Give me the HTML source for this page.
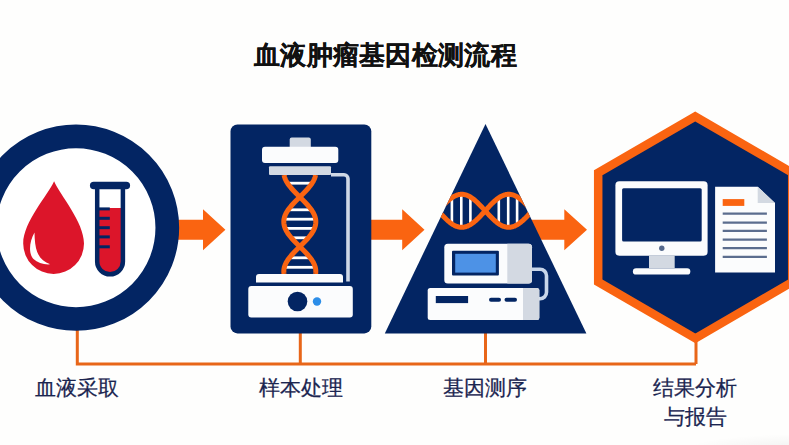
<!DOCTYPE html>
<html><head><meta charset="utf-8">
<style>
html,body{margin:0;padding:0;width:789px;height:445px;overflow:hidden;background:#fefefd;}
body{position:relative;font-family:"Liberation Sans",sans-serif;}
svg{position:absolute;left:0;top:0;}
.t{position:absolute;white-space:nowrap;color:#1b2550;}
#title{left:254px;top:38px;font-size:26px;font-weight:700;color:#111;letter-spacing:0.3px;-webkit-text-stroke:0.15px #111;}
.lab{font-size:21px;-webkit-text-stroke:0.25px #1b2550;line-height:29px;text-align:center;width:120px;}
</style></head><body>
<svg width="789" height="445" viewBox="0 0 789 445">
<defs><radialGradient id="sh" cx="0.5" cy="0.5" r="0.5"><stop offset="0" stop-color="#000" stop-opacity="0.06"/><stop offset="1" stop-color="#000" stop-opacity="0"/></radialGradient></defs>
<ellipse cx="800" cy="452" rx="120" ry="18" fill="url(#sh)"/>
<g stroke="#e86619" stroke-width="3" fill="none">
<path d="M77.3,320 V364 H696"/>
<path d="M300.3,320 V364"/>
<path d="M485.5,320 V364"/>
<path d="M696,330 V364"/>
</g>
<path d="M165,219.8 H203 V209.3 L225.4,229.8 L203,250.3 V239.8 H165 Z" fill="#fa6411"/>
<path d="M365,219.8 H402.2 V209.3 L424.5,229.8 L402.2,250.3 V239.8 H365 Z" fill="#fa6411"/>
<path d="M525,219.8 H564.3 V209.3 L587,229.8 L564.3,250.3 V239.8 H525 Z" fill="#fa6411"/>
<circle cx="76" cy="227.7" r="91.3" fill="#ffffff" stroke="#032563" stroke-width="23.7"/>
<path d="M54.1,181.3 C 60,195 84,222 84,243.5 A30.4,30.4 0 0 1 23.2,243.5 C23.2,222 48,195 54.1,181.3 Z" fill="#dc152a"/>
<path d="M34.5,232.5 C29,242 28.5,254 33.5,259 C37.5,263 44,264.8 50.2,264.3 C44,262 39.5,258 37.2,252 C35.3,247 34.6,240 34.5,232.5 Z" fill="#ffffff"/>
<path d="M97.2,189 V261.5 A12.85,12.85 0 0 0 122.9,261.5 V189 Z" fill="#ffffff"/>
<path d="M97.2,208 H122.9 V261.5 A12.85,12.85 0 0 1 97.2,261.5 Z" fill="#dc152a"/>
<path d="M97.2,186 V261.5 A12.85,12.85 0 0 0 122.9,261.5 V186" fill="none" stroke="#032563" stroke-width="4.5"/>
<line x1="93.7" y1="185.6" x2="126.3" y2="185.6" stroke="#032563" stroke-width="7.5" stroke-linecap="round"/>
<line x1="98.6" y1="208.9" x2="109.8" y2="208.9" stroke="#032563" stroke-width="3"/>
<line x1="98.6" y1="218.3" x2="109.8" y2="218.3" stroke="#032563" stroke-width="3"/>
<line x1="98.6" y1="227.7" x2="109.8" y2="227.7" stroke="#032563" stroke-width="3"/>
<line x1="98.6" y1="236.9" x2="109.8" y2="236.9" stroke="#032563" stroke-width="3"/>
<line x1="98.6" y1="246.8" x2="109.8" y2="246.8" stroke="#032563" stroke-width="3"/>
<rect x="230.5" y="124.4" width="140.8" height="209" rx="7" fill="#032563"/>
<path d="M331,174.8 H344 A4,4 0 0 1 348,178.8 V281.6" fill="none" stroke="#cfd8e6" stroke-width="3.6"/>
<g>
<line x1="287.53" y1="183.2" x2="312.07" y2="183.2" stroke="#ffffff" stroke-width="2.8"/>
<line x1="288.20" y1="209.8" x2="311.40" y2="209.8" stroke="#ffffff" stroke-width="2.8"/>
<line x1="284.02" y1="219.2" x2="315.58" y2="219.2" stroke="#ffffff" stroke-width="2.8"/>
<line x1="285.18" y1="228.4" x2="314.42" y2="228.4" stroke="#ffffff" stroke-width="2.8"/>
<line x1="291.34" y1="237.8" x2="308.26" y2="237.8" stroke="#ffffff" stroke-width="2.8"/>
<line x1="289.38" y1="257.8" x2="310.22" y2="257.8" stroke="#ffffff" stroke-width="2.8"/>
<line x1="284.34" y1="267.3" x2="315.26" y2="267.3" stroke="#ffffff" stroke-width="2.8"/>
<path d="M284.05,175.00 L284.15,175.50 L284.26,176.00 L284.39,176.50 L284.53,177.00 L284.69,177.50 L284.87,178.00 L285.06,178.50 L285.26,179.00 L285.48,179.50 L285.71,180.00 L285.96,180.50 L286.22,181.00 L286.50,181.50 L286.78,182.00 L287.09,182.50 L287.40,183.00 L287.73,183.50 L288.06,184.00 L288.41,184.50 L288.78,185.00 L289.15,185.50 L289.53,186.00 L289.93,186.50 L290.33,187.00 L290.74,187.50 L291.17,188.00 L291.60,188.50 L292.04,189.00 L292.48,189.50 L292.94,190.00 L293.40,190.50 L293.86,191.00 L294.34,191.50 L294.82,192.00 L295.30,192.50 L295.79,193.00 L296.28,193.50 L296.78,194.00 L297.28,194.50 L297.78,195.00 L298.28,195.50 L298.79,196.00 L299.29,196.50 L299.80,197.00 L300.31,197.50 L300.81,198.00 L301.32,198.50 L301.82,199.00 L302.32,199.50 L302.82,200.00 L303.32,200.50 L303.81,201.00 L304.30,201.50 L304.78,202.00 L305.26,202.50 L305.74,203.00 L306.20,203.50 L306.66,204.00 L307.12,204.50 L307.56,205.00 L308.00,205.50 L308.43,206.00 L308.86,206.50 L309.27,207.00 L309.67,207.50 L310.07,208.00 L310.45,208.50 L310.82,209.00 L311.19,209.50 L311.54,210.00 L311.87,210.50 L312.20,211.00 L312.51,211.50 L312.82,212.00 L313.10,212.50 L313.38,213.00 L313.64,213.50 L313.89,214.00 L314.12,214.50 L314.34,215.00 L314.54,215.50 L314.73,216.00 L314.91,216.50 L315.07,217.00 L315.21,217.50 L315.34,218.00 L315.45,218.50 L315.55,219.00 L315.63,219.50 L315.70,220.00 L315.75,220.50 L315.78,221.00 L315.80,221.50 L315.80,222.00 L315.78,222.50 L315.75,223.00 L315.71,223.50 L315.64,224.00 L315.57,224.50 L315.47,225.00 L315.36,225.50 L315.24,226.00 L315.10,226.50 L314.94,227.00 L314.77,227.50 L314.58,228.00 L314.38,228.50 L314.16,229.00 L313.93,229.50 L313.69,230.00 L313.43,230.50 L313.16,231.00 L312.87,231.50 L312.58,232.00 L312.26,232.50 L311.94,233.00 L311.60,233.50 L311.26,234.00 L310.90,234.50 L310.53,235.00 L310.14,235.50 L309.75,236.00 L309.35,236.50 L308.94,237.00 L308.52,237.50 L308.09,238.00 L307.65,238.50 L307.21,239.00 L306.76,239.50 L306.30,240.00 L305.83,240.50 L305.36,241.00 L304.88,241.50 L304.40,242.00 L303.91,242.50 L303.42,243.00 L302.92,243.50 L302.42,244.00 L301.92,244.50 L301.42,245.00 L300.91,245.50 L300.41,246.00 L299.90,246.50 L299.39,247.00 L298.89,247.50 L298.38,248.00 L297.88,248.50 L297.38,249.00 L296.88,249.50 L296.38,250.00 L295.89,250.50 L295.40,251.00 L294.91,251.50 L294.43,252.00 L293.96,252.50 L293.49,253.00 L293.03,253.50 L292.57,254.00 L292.12,254.50 L291.68,255.00 L291.25,255.50 L290.83,256.00 L290.41,256.50 L290.01,257.00 L289.61,257.50 L289.23,258.00 L288.85,258.50 L288.49,259.00 L288.13,259.50 L287.79,260.00 L287.46,260.50 L287.15,261.00 L286.84,261.50 L286.55,262.00 L286.28,262.50 L286.01,263.00 L285.76,263.50 L285.53,264.00 L285.30,264.50 L285.10,265.00 L284.90,265.50 L284.73,266.00 L284.56,266.50 L284.42,267.00 L284.29,267.50 L284.17,268.00 L284.07,268.50 L283.98,269.00 L283.92,269.50 L283.86,270.00 L283.83,270.50 L283.81,271.00 L283.80,271.50 L283.81,272.00 L283.84,272.50 L283.88,273.00 L283.94,273.50 L284.02,274.00" fill="none" stroke="#fa6411" stroke-width="5"/>
<path d="M315.55,175.00 L315.45,175.50 L315.34,176.00 L315.21,176.50 L315.07,177.00 L314.91,177.50 L314.73,178.00 L314.54,178.50 L314.34,179.00 L314.12,179.50 L313.89,180.00 L313.64,180.50 L313.38,181.00 L313.10,181.50 L312.82,182.00 L312.51,182.50 L312.20,183.00 L311.87,183.50 L311.54,184.00 L311.19,184.50 L310.82,185.00 L310.45,185.50 L310.07,186.00 L309.67,186.50 L309.27,187.00 L308.86,187.50 L308.43,188.00 L308.00,188.50 L307.56,189.00 L307.12,189.50 L306.66,190.00 L306.20,190.50 L305.74,191.00 L305.26,191.50 L304.78,192.00 L304.30,192.50 L303.81,193.00 L303.32,193.50 L302.82,194.00 L302.32,194.50 L301.82,195.00 L301.32,195.50 L300.81,196.00 L300.31,196.50 L299.80,197.00 L299.29,197.50 L298.79,198.00 L298.28,198.50 L297.78,199.00 L297.28,199.50 L296.78,200.00 L296.28,200.50 L295.79,201.00 L295.30,201.50 L294.82,202.00 L294.34,202.50 L293.86,203.00 L293.40,203.50 L292.94,204.00 L292.48,204.50 L292.04,205.00 L291.60,205.50 L291.17,206.00 L290.74,206.50 L290.33,207.00 L289.93,207.50 L289.53,208.00 L289.15,208.50 L288.78,209.00 L288.41,209.50 L288.06,210.00 L287.73,210.50 L287.40,211.00 L287.09,211.50 L286.78,212.00 L286.50,212.50 L286.22,213.00 L285.96,213.50 L285.71,214.00 L285.48,214.50 L285.26,215.00 L285.06,215.50 L284.87,216.00 L284.69,216.50 L284.53,217.00 L284.39,217.50 L284.26,218.00 L284.15,218.50 L284.05,219.00 L283.97,219.50 L283.90,220.00 L283.85,220.50 L283.82,221.00 L283.80,221.50 L283.80,222.00 L283.82,222.50 L283.85,223.00 L283.89,223.50 L283.96,224.00 L284.03,224.50 L284.13,225.00 L284.24,225.50 L284.36,226.00 L284.50,226.50 L284.66,227.00 L284.83,227.50 L285.02,228.00 L285.22,228.50 L285.44,229.00 L285.67,229.50 L285.91,230.00 L286.17,230.50 L286.44,231.00 L286.73,231.50 L287.02,232.00 L287.34,232.50 L287.66,233.00 L288.00,233.50 L288.34,234.00 L288.70,234.50 L289.07,235.00 L289.46,235.50 L289.85,236.00 L290.25,236.50 L290.66,237.00 L291.08,237.50 L291.51,238.00 L291.95,238.50 L292.39,239.00 L292.84,239.50 L293.30,240.00 L293.77,240.50 L294.24,241.00 L294.72,241.50 L295.20,242.00 L295.69,242.50 L296.18,243.00 L296.68,243.50 L297.18,244.00 L297.68,244.50 L298.18,245.00 L298.69,245.50 L299.19,246.00 L299.70,246.50 L300.21,247.00 L300.71,247.50 L301.22,248.00 L301.72,248.50 L302.22,249.00 L302.72,249.50 L303.22,250.00 L303.71,250.50 L304.20,251.00 L304.69,251.50 L305.17,252.00 L305.64,252.50 L306.11,253.00 L306.57,253.50 L307.03,254.00 L307.48,254.50 L307.92,255.00 L308.35,255.50 L308.77,256.00 L309.19,256.50 L309.59,257.00 L309.99,257.50 L310.37,258.00 L310.75,258.50 L311.11,259.00 L311.47,259.50 L311.81,260.00 L312.14,260.50 L312.45,261.00 L312.76,261.50 L313.05,262.00 L313.32,262.50 L313.59,263.00 L313.84,263.50 L314.07,264.00 L314.30,264.50 L314.50,265.00 L314.70,265.50 L314.87,266.00 L315.04,266.50 L315.18,267.00 L315.31,267.50 L315.43,268.00 L315.53,268.50 L315.62,269.00 L315.68,269.50 L315.74,270.00 L315.77,270.50 L315.79,271.00 L315.80,271.50 L315.79,272.00 L315.76,272.50 L315.72,273.00 L315.66,273.50 L315.58,274.00" fill="none" stroke="#fa6411" stroke-width="5"/>
</g>
<rect x="289.7" y="137.4" width="21.1" height="12" rx="2" fill="#d3d9e2"/>
<rect x="262" y="146.8" width="76.3" height="16.2" rx="3" fill="#fbfcfd"/>
<rect x="269" y="166.3" width="62" height="8.8" rx="1" fill="#d3d9e2"/>
<path d="M256,282.4 V277 A3,3 0 0 1 259,274 H340 A3,3 0 0 1 343,277 V282.4 Z" fill="#fbfcfd"/>
<rect x="248.3" y="286" width="104.5" height="31.5" rx="3" fill="#fbfcfd"/>
<circle cx="297.5" cy="301.5" r="9.8" fill="#032563"/>
<circle cx="317" cy="301.5" r="4.2" fill="#2d8ee8"/>
<defs><clipPath id="tri"><polygon points="485.5,124 384.8,333.4 586.4,333.4"/></clipPath></defs>
<polygon points="485.5,124 384.8,333.4 586.4,333.4" fill="#032563"/>
<g clip-path="url(#tri)">
<line x1="451.9" y1="197.72" x2="451.9" y2="223.88" stroke="#ffffff" stroke-width="2.6"/>
<line x1="461.3" y1="194.31" x2="461.3" y2="227.29" stroke="#ffffff" stroke-width="2.6"/>
<line x1="470.4" y1="197.01" x2="470.4" y2="224.59" stroke="#ffffff" stroke-width="2.6"/>
<line x1="498.8" y1="197.78" x2="498.8" y2="223.82" stroke="#ffffff" stroke-width="2.6"/>
<line x1="508.2" y1="194.31" x2="508.2" y2="227.29" stroke="#ffffff" stroke-width="2.6"/>
<line x1="517.1" y1="196.83" x2="517.1" y2="224.77" stroke="#ffffff" stroke-width="2.6"/>
<path d="M430.00,219.40 L430.50,218.92 L431.00,218.44 L431.50,217.94 L432.00,217.44 L432.50,216.94 L433.00,216.42 L433.50,215.90 L434.00,215.37 L434.50,214.84 L435.00,214.30 L435.50,213.76 L436.00,213.22 L436.50,212.67 L437.00,212.12 L437.50,211.57 L438.00,211.02 L438.50,210.47 L439.00,209.92 L439.50,209.37 L440.00,208.82 L440.50,208.27 L441.00,207.73 L441.50,207.19 L442.00,206.65 L442.50,206.12 L443.00,205.60 L443.50,205.08 L444.00,204.56 L444.50,204.06 L445.00,203.56 L445.50,203.06 L446.00,202.58 L446.50,202.11 L447.00,201.64 L447.50,201.19 L448.00,200.75 L448.50,200.32 L449.00,199.90 L449.50,199.49 L450.00,199.09 L450.50,198.71 L451.00,198.34 L451.50,197.99 L452.00,197.65 L452.50,197.32 L453.00,197.01 L453.50,196.72 L454.00,196.44 L454.50,196.17 L455.00,195.93 L455.50,195.70 L456.00,195.48 L456.50,195.29 L457.00,195.11 L457.50,194.95 L458.00,194.80 L458.50,194.68 L459.00,194.57 L459.50,194.48 L460.00,194.41 L460.50,194.35 L461.00,194.32 L461.50,194.30 L462.00,194.30 L462.50,194.32 L463.00,194.36 L463.50,194.42 L464.00,194.49 L464.50,194.59 L465.00,194.70 L465.50,194.83 L466.00,194.98 L466.50,195.14 L467.00,195.32 L467.50,195.52 L468.00,195.74 L468.50,195.98 L469.00,196.23 L469.50,196.49 L470.00,196.77 L470.50,197.07 L471.00,197.39 L471.50,197.72 L472.00,198.06 L472.50,198.42 L473.00,198.79 L473.50,199.17 L474.00,199.57 L474.50,199.98 L475.00,200.40 L475.50,200.84 L476.00,201.28 L476.50,201.74 L477.00,202.20 L477.50,202.68 L478.00,203.16 L478.50,203.66 L479.00,204.16 L479.50,204.66 L480.00,205.18 L480.50,205.70 L481.00,206.23 L481.50,206.76 L482.00,207.30 L482.50,207.84 L483.00,208.38 L483.50,208.93 L484.00,209.48 L484.50,210.03 L485.00,210.58 L485.50,211.13 L486.00,211.68 L486.50,212.23 L487.00,212.78 L487.50,213.33 L488.00,213.87 L488.50,214.41 L489.00,214.95 L489.50,215.48 L490.00,216.00 L490.50,216.52 L491.00,217.04 L491.50,217.54 L492.00,218.04 L492.50,218.54 L493.00,219.02 L493.50,219.49 L494.00,219.96 L494.50,220.41 L495.00,220.85 L495.50,221.28 L496.00,221.70 L496.50,222.11 L497.00,222.51 L497.50,222.89 L498.00,223.26 L498.50,223.61 L499.00,223.95 L499.50,224.28 L500.00,224.59 L500.50,224.88 L501.00,225.16 L501.50,225.43 L502.00,225.67 L502.50,225.90 L503.00,226.12 L503.50,226.31 L504.00,226.49 L504.50,226.65 L505.00,226.80 L505.50,226.92 L506.00,227.03 L506.50,227.12 L507.00,227.19 L507.50,227.25 L508.00,227.28 L508.50,227.30 L509.00,227.30 L509.50,227.28 L510.00,227.24 L510.50,227.18 L511.00,227.11 L511.50,227.01 L512.00,226.90 L512.50,226.77 L513.00,226.62 L513.50,226.46 L514.00,226.28 L514.50,226.08 L515.00,225.86 L515.50,225.62 L516.00,225.37 L516.50,225.11 L517.00,224.83 L517.50,224.53 L518.00,224.21 L518.50,223.88 L519.00,223.54 L519.50,223.18 L520.00,222.81 L520.50,222.43 L521.00,222.03 L521.50,221.62 L522.00,221.20 L522.50,220.76 L523.00,220.32 L523.50,219.86 L524.00,219.40 L524.50,218.92 L525.00,218.44 L525.50,217.94 L526.00,217.44 L526.50,216.94 L527.00,216.42 L527.50,215.90 L528.00,215.37 L528.50,214.84 L529.00,214.30 L529.50,213.76 L530.00,213.22 L530.50,212.67 L531.00,212.12 L531.50,211.57 L532.00,211.02 L532.50,210.47 L533.00,209.92 L533.50,209.37 L534.00,208.82 L534.50,208.27 L535.00,207.73 L535.50,207.19 L536.00,206.65 L536.50,206.12 L537.00,205.60 L537.50,205.08 L538.00,204.56 L538.50,204.06 L539.00,203.56 L539.50,203.06 L540.00,202.58 L540.50,202.11 L541.00,201.64" fill="none" stroke="#fa6411" stroke-width="5"/>
<path d="M430.00,202.20 L430.50,202.68 L431.00,203.16 L431.50,203.66 L432.00,204.16 L432.50,204.66 L433.00,205.18 L433.50,205.70 L434.00,206.23 L434.50,206.76 L435.00,207.30 L435.50,207.84 L436.00,208.38 L436.50,208.93 L437.00,209.48 L437.50,210.03 L438.00,210.58 L438.50,211.13 L439.00,211.68 L439.50,212.23 L440.00,212.78 L440.50,213.33 L441.00,213.87 L441.50,214.41 L442.00,214.95 L442.50,215.48 L443.00,216.00 L443.50,216.52 L444.00,217.04 L444.50,217.54 L445.00,218.04 L445.50,218.54 L446.00,219.02 L446.50,219.49 L447.00,219.96 L447.50,220.41 L448.00,220.85 L448.50,221.28 L449.00,221.70 L449.50,222.11 L450.00,222.51 L450.50,222.89 L451.00,223.26 L451.50,223.61 L452.00,223.95 L452.50,224.28 L453.00,224.59 L453.50,224.88 L454.00,225.16 L454.50,225.43 L455.00,225.67 L455.50,225.90 L456.00,226.12 L456.50,226.31 L457.00,226.49 L457.50,226.65 L458.00,226.80 L458.50,226.92 L459.00,227.03 L459.50,227.12 L460.00,227.19 L460.50,227.25 L461.00,227.28 L461.50,227.30 L462.00,227.30 L462.50,227.28 L463.00,227.24 L463.50,227.18 L464.00,227.11 L464.50,227.01 L465.00,226.90 L465.50,226.77 L466.00,226.62 L466.50,226.46 L467.00,226.28 L467.50,226.08 L468.00,225.86 L468.50,225.62 L469.00,225.37 L469.50,225.11 L470.00,224.83 L470.50,224.53 L471.00,224.21 L471.50,223.88 L472.00,223.54 L472.50,223.18 L473.00,222.81 L473.50,222.43 L474.00,222.03 L474.50,221.62 L475.00,221.20 L475.50,220.76 L476.00,220.32 L476.50,219.86 L477.00,219.40 L477.50,218.92 L478.00,218.44 L478.50,217.94 L479.00,217.44 L479.50,216.94 L480.00,216.42 L480.50,215.90 L481.00,215.37 L481.50,214.84 L482.00,214.30 L482.50,213.76 L483.00,213.22 L483.50,212.67 L484.00,212.12 L484.50,211.57 L485.00,211.02 L485.50,210.47 L486.00,209.92 L486.50,209.37 L487.00,208.82 L487.50,208.27 L488.00,207.73 L488.50,207.19 L489.00,206.65 L489.50,206.12 L490.00,205.60 L490.50,205.08 L491.00,204.56 L491.50,204.06 L492.00,203.56 L492.50,203.06 L493.00,202.58 L493.50,202.11 L494.00,201.64 L494.50,201.19 L495.00,200.75 L495.50,200.32 L496.00,199.90 L496.50,199.49 L497.00,199.09 L497.50,198.71 L498.00,198.34 L498.50,197.99 L499.00,197.65 L499.50,197.32 L500.00,197.01 L500.50,196.72 L501.00,196.44 L501.50,196.17 L502.00,195.93 L502.50,195.70 L503.00,195.48 L503.50,195.29 L504.00,195.11 L504.50,194.95 L505.00,194.80 L505.50,194.68 L506.00,194.57 L506.50,194.48 L507.00,194.41 L507.50,194.35 L508.00,194.32 L508.50,194.30 L509.00,194.30 L509.50,194.32 L510.00,194.36 L510.50,194.42 L511.00,194.49 L511.50,194.59 L512.00,194.70 L512.50,194.83 L513.00,194.98 L513.50,195.14 L514.00,195.32 L514.50,195.52 L515.00,195.74 L515.50,195.98 L516.00,196.23 L516.50,196.49 L517.00,196.77 L517.50,197.07 L518.00,197.39 L518.50,197.72 L519.00,198.06 L519.50,198.42 L520.00,198.79 L520.50,199.17 L521.00,199.57 L521.50,199.98 L522.00,200.40 L522.50,200.84 L523.00,201.28 L523.50,201.74 L524.00,202.20 L524.50,202.68 L525.00,203.16 L525.50,203.66 L526.00,204.16 L526.50,204.66 L527.00,205.18 L527.50,205.70 L528.00,206.23 L528.50,206.76 L529.00,207.30 L529.50,207.84 L530.00,208.38 L530.50,208.93 L531.00,209.48 L531.50,210.03 L532.00,210.58 L532.50,211.13 L533.00,211.68 L533.50,212.23 L534.00,212.78 L534.50,213.33 L535.00,213.87 L535.50,214.41 L536.00,214.95 L536.50,215.48 L537.00,216.00 L537.50,216.52 L538.00,217.04 L538.50,217.54 L539.00,218.04 L539.50,218.54 L540.00,219.02 L540.50,219.49 L541.00,219.96" fill="none" stroke="#fa6411" stroke-width="5"/>
</g>
<path d="M530,269.2 H540 A6.5,6.5 0 0 1 546.5,275.7 V292.3 A6.5,6.5 0 0 1 540,298.8 H536" fill="none" stroke="#c8d6ea" stroke-width="3.6"/>
<rect x="444.3" y="243.7" width="87.7" height="39.7" rx="3.5" fill="#fbfcfd"/>
<path d="M507.3,243.7 H528.5 A3.5,3.5 0 0 1 532,247.2 V279.9 A3.5,3.5 0 0 1 528.5,283.4 H507.3 Z" fill="#d3d9e2"/>
<rect x="452" y="250.8" width="46.9" height="24.6" rx="1" fill="#032563"/>
<rect x="455.2" y="253.8" width="40.6" height="18.8" fill="#4d92e6"/>
<rect x="427.7" y="288" width="111.6" height="32" rx="2.5" fill="#fbfcfd"/>
<path d="M523,288 H536.8 A2.5,2.5 0 0 1 539.3,290.5 V317.5 A2.5,2.5 0 0 1 536.8,320 H523 Z" fill="#d3d9e2"/>
<rect x="435.8" y="296" width="32.3" height="7.1" fill="#032563"/>
<line x1="491" y1="299.7" x2="499" y2="299.7" stroke="#032563" stroke-width="4" stroke-linecap="round"/>
<line x1="506.5" y1="299.7" x2="515" y2="299.7" stroke="#032563" stroke-width="4" stroke-linecap="round"/>
<polygon points="695.2,116.5 598.2,172.7 598.2,282 695.4,338.4 792.2,282 792.2,172.7" fill="#032563" stroke="#fa6411" stroke-width="8.5" stroke-linejoin="miter"/>
<rect x="615.4" y="181.3" width="92.2" height="74.4" rx="4" fill="#fbfcfd"/>
<rect x="622.1" y="188.3" width="79.6" height="53.1" rx="1.5" fill="#032563"/>
<circle cx="661.8" cy="248.3" r="2.7" fill="#55698c"/>
<rect x="649" y="255.7" width="25.7" height="12.3" fill="#d3d9e2"/>
<rect x="632.9" y="268.2" width="57.4" height="6.4" rx="3.2" fill="#fbfcfd"/>
<path d="M715.1,186.7 H757.7 L775,202.9 V272.5 H715.1 Z" fill="#fbfcfd"/>
<path d="M757.7,186.7 L775,202.9 H757.7 Z" fill="#d3d9e2"/>
<rect x="722.7" y="199.1" width="21.6" height="6.8" fill="#fa6411"/>
<line x1="722.7" y1="213.7" x2="766.9" y2="213.7" stroke="#5b6d8e" stroke-width="2.3"/>
<line x1="722.7" y1="222.6" x2="766.9" y2="222.6" stroke="#5b6d8e" stroke-width="2.3"/>
<line x1="722.7" y1="230.9" x2="766.9" y2="230.9" stroke="#5b6d8e" stroke-width="2.3"/>
<line x1="722.7" y1="239.6" x2="766.9" y2="239.6" stroke="#5b6d8e" stroke-width="2.3"/>
<line x1="722.7" y1="248.2" x2="766.9" y2="248.2" stroke="#5b6d8e" stroke-width="2.3"/>
<line x1="722.7" y1="256.8" x2="766.9" y2="256.8" stroke="#5b6d8e" stroke-width="2.3"/>
</svg>
<div class="t" id="title">血液肿瘤基因检测流程</div>
<div class="t lab" style="left:17px;top:373px;">血液采取</div>
<div class="t lab" style="left:241px;top:373px;">样本处理</div>
<div class="t lab" style="left:425px;top:373px;">基因测序</div>
<div class="t lab" style="left:635px;top:373px;">结果分析<br>与报告</div>
</body></html>
